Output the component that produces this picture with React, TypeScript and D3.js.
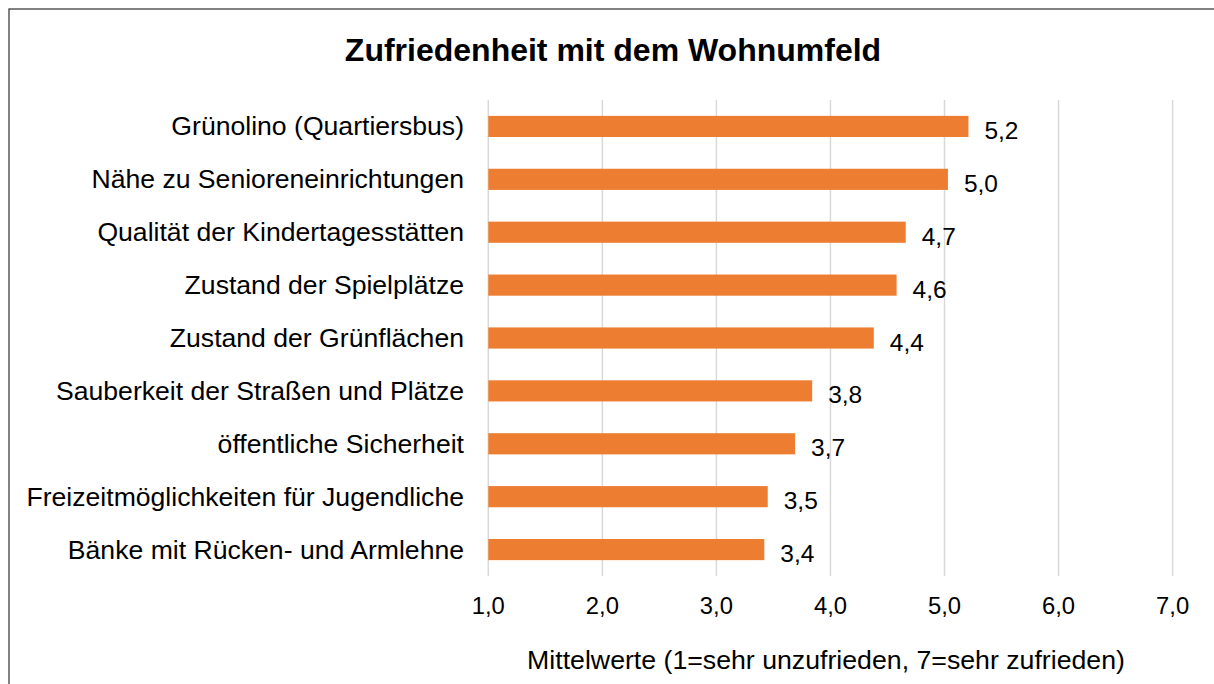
import React from 'react'
import * as d3 from 'd3'

const categories = [
  'Grünolino (Quartiersbus)',
  'Nähe zu Senioreneinrichtungen',
  'Qualität der Kindertagesstätten',
  'Zustand der Spielplätze',
  'Zustand der Grünflächen',
  'Sauberkeit der Straßen und Plätze',
  'öffentliche Sicherheit',
  'Freizeitmöglichkeiten für Jugendliche',
  'Bänke mit Rücken- und Armlehne',
]
const values = [5.21, 5.03, 4.66, 4.58, 4.38, 3.84, 3.69, 3.45, 3.42]
const ticks = [1, 2, 3, 4, 5, 6, 7]

const title = 'Zufriedenheit mit dem Wohnumfeld'
const axisTitle = 'Mittelwerte (1=sehr unzufrieden, 7=sehr zufrieden)'

const W = 1214
const H = 684
const font = 'Arial, "Liberation Sans", sans-serif'

const fmt = (v: number) => v.toFixed(1).replace('.', ',')

export default function App() {
  const x = d3.scaleLinear().domain([1, 7]).range([488.3, 1172.6])
  const y = d3.scaleBand().domain(categories).range([100, 576]).paddingInner(0.6).paddingOuter(0.3)
  const bw = y.bandwidth()

  return (
    <svg
      width={W}
      height={H}
      style={{ position: 'absolute', left: 0, top: 0, background: '#fff' }}
      fontFamily={font}
    >
      <rect x={9} y={9} width={W + 20} height={H + 20} fill="#fff" stroke="#404040" strokeWidth={1.3} />
      <text x={613} y={61} textAnchor="middle" fontSize={32} fontWeight="bold" fill="#000">
        {title}
      </text>

      {ticks.map((t) => (
        <g key={t}>
          <line x1={x(t)} x2={x(t)} y1={100} y2={576} stroke="#d9d9d9" strokeWidth={1.5} />
          <text x={x(t)} y={614} textAnchor="middle" fontSize={23.8} fill="#000">
            {fmt(t)}
          </text>
        </g>
      ))}

      {categories.map((c, i) => {
        const yy = y(c) as number
        const cy = yy + bw / 2
        return (
          <g key={c}>
            <rect x={x(1)} y={yy} width={x(values[i]) - x(1)} height={bw} fill="#ED7D31" />
            <text x={464} y={cy + 9} textAnchor="end" fontSize={26.6} fill="#000">
              {c}
            </text>
            <text x={x(values[i]) + 16} y={cy + 12.5} fontSize={24.5} fill="#000">
              {fmt(values[i])}
            </text>
          </g>
        )
      })}

      <text x={826} y={669} textAnchor="middle" fontSize={26.7} fill="#000">
        {axisTitle}
      </text>
    </svg>
  )
}
